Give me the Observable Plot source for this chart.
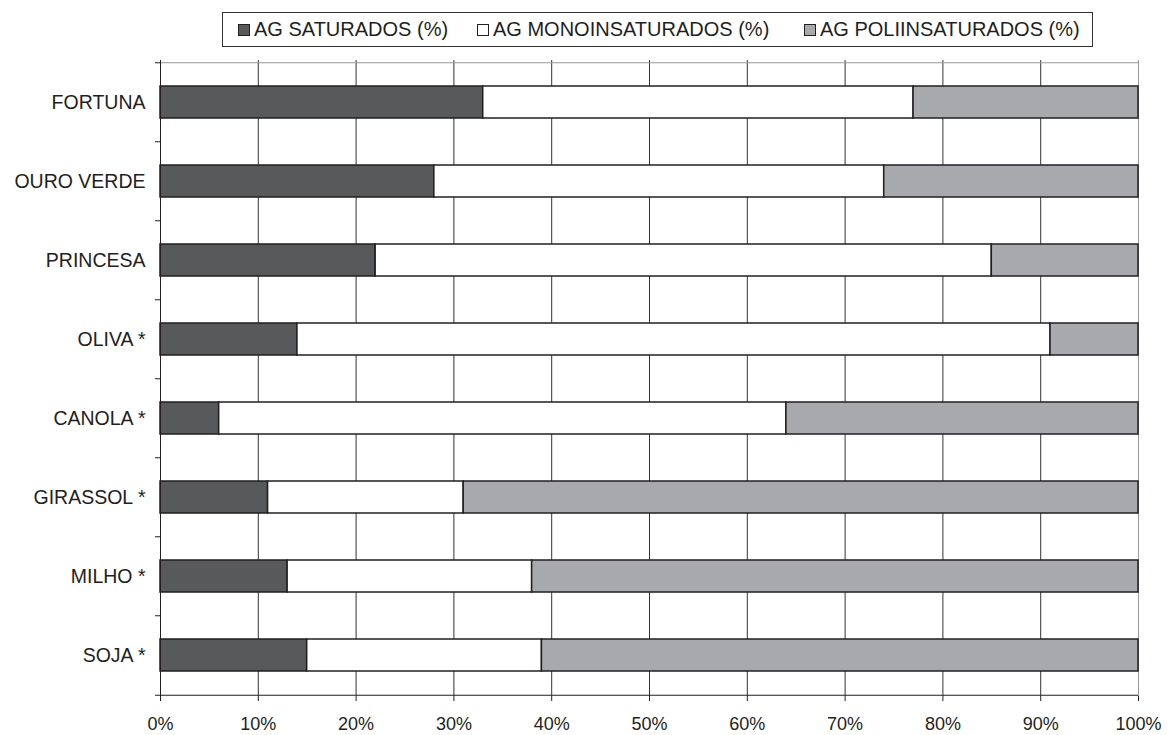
<!DOCTYPE html>
<html>
<head>
<meta charset="utf-8">
<script src="https://cdn.jsdelivr.net/npm/d3@7"></script>
<script src="https://cdn.jsdelivr.net/npm/@observablehq/plot@0.6"></script>
<style>
  body { margin: 0; background: #fff; font-family: "Liberation Sans", Arial, sans-serif; color: #231f20; }
  #legendWrap { position: relative; width: 1168px; height: 55px; }
  #legend { position: absolute; left: 222px; top: 12px; width: 871px; height: 35px; border: 1px solid #333; box-sizing: border-box; }
  .item { position: absolute; top: 0; height: 33px; display: flex; align-items: center; font-size: 20px; white-space: nowrap; }
  .sw { width: 10px; height: 10px; border: 1px solid #231f20; margin-right: 4px; }
  #chart svg { display: block; }
</style>
</head>
<body>
<div id="legendWrap"><div id="legend"></div></div>
<div id="chart"></div>
<script>
const categories = ["FORTUNA", "OURO VERDE", "PRINCESA", "OLIVA *", "CANOLA *", "GIRASSOL *", "MILHO *", "SOJA *"];
const series = ["AG SATURADOS (%)", "AG MONOINSATURADOS (%)", "AG POLIINSATURADOS (%)"];
const saturados =       [33, 28, 22, 14,  6, 11, 13, 15];
const monoinsaturados = [44, 46, 63, 77, 58, 20, 25, 24];
const poliinsaturados = [23, 26, 15,  9, 36, 69, 62, 61];
const colors = ["#58595b", "#ffffff", "#a7a9ac"];
const xTicks = [0, 10, 20, 30, 40, 50, 60, 70, 80, 90, 100];

const seriesValues = [saturados, monoinsaturados, poliinsaturados];
const data = [];
categories.forEach((c, i) => {
  series.forEach((s, j) => data.push({category: c, series: s, value: seriesValues[j][i]}));
});

// legend
const legend = document.getElementById("legend");
const legendLeft = [15, 254, 581];
series.forEach((s, j) => {
  const it = document.createElement("div");
  it.className = "item";
  it.style.left = legendLeft[j] + "px";
  it.innerHTML = `<span class="sw" style="background:${colors[j]}"></span><span>${s}</span>`;
  legend.appendChild(it);
});

const H = 680, MT = 5, MB = 39;
const step = (H - MT - MB) / categories.length;
const last = categories[categories.length - 1];

const chart = Plot.plot({
  width: 1168,
  height: H,
  marginLeft: 160,
  marginRight: 30,
  marginTop: MT,
  marginBottom: MB,
  style: {fontFamily: "'Liberation Sans', Arial, sans-serif", fontSize: "19.5px", color: "#231f20", background: "#fff"},
  x: {domain: [0, 100]},
  y: {domain: categories, paddingInner: 0.6, paddingOuter: 0.3, label: null},
  color: {domain: series, range: colors},
  marks: [
    Plot.gridX(xTicks.filter(d => d > 0 && d < 100), {stroke: "#333", strokeOpacity: 1}),
    Plot.ruleX([100], {stroke: "#999"}),
    Plot.ruleY([categories[0]], {dy: -step / 2, stroke: "#999"}),
    Plot.barX(data, Plot.stackX({y: "category", x: "value", fill: "series", stroke: "#231f20", strokeWidth: 1.5})),
    Plot.ruleX([0], {stroke: "#231f20"}),
    Plot.ruleY([last], {dy: step / 2, stroke: "#231f20"}),
    Plot.axisY(categories, {tickSize: 5, text: null, dy: -step / 2, stroke: "#231f20"}),
    Plot.axisY([last], {tickSize: 5, text: null, dy: step / 2, stroke: "#231f20"}),
    Plot.axisY({tickSize: 0, tickPadding: 15, label: null, fill: "#231f20"}),
    Plot.axisX(xTicks, {tickSize: 5, tickPadding: 16, fontSize: 18, tickFormat: d => d + "%", label: null, stroke: "#231f20", fill: "#231f20"})
  ]
});
document.getElementById("chart").appendChild(chart);
</script>
</body>
</html>
